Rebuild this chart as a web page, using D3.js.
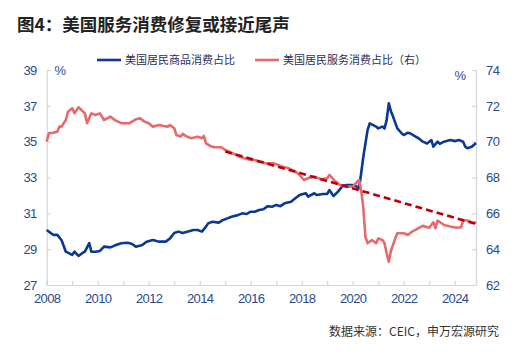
<!DOCTYPE html>
<html>
<head>
<meta charset="utf-8">
<script src="https://cdn.jsdelivr.net/npm/d3@7"></script>
<style>
  body { margin: 0; background: #fff; }
  svg { display: block; }
  .tick-label { font-family: "Liberation Sans", Arial, sans-serif; font-size: 13px; letter-spacing: -0.6px; fill: #2b4a8c; }
</style>
</head>
<body>
<svg id="chart" width="531" height="358"></svg>
<script>
// goods share (left axis), month offset from 2008-01 and value
const goodsMonths = [0,3,5,7,9,12,13,15,17,18,20,21,23,25,27,30,32,35,38,40,42,45,47,50,53,56,58,60,62,64,67,69,71,73,75,76,78,81,83,85,87,90,92,94,96,98,100,102,104,106,108,110,112,115,117,119,122,123,126,127,130,132,133,135,137,139,141,144,146,147,148,149,151,152,155,156,158,159,160,161,162,163,165,167,168,170,171,173,175,177,179,181,182,184,185,187,189,190,192,194,196,197,198,200,202];
const goodsShare = [30.07,29.8,29.8,29.5,28.86,28.68,28.86,28.62,28.8,28.86,29.34,28.86,28.86,28.9,29.14,29.1,29.2,29.33,29.36,29.3,29.14,29.23,29.42,29.51,29.42,29.42,29.6,29.9,29.98,29.9,30.0,30.07,30.07,29.98,30.26,30.44,30.53,30.48,30.63,30.72,30.81,30.9,31.0,30.96,31.09,31.09,31.19,31.23,31.4,31.37,31.47,31.4,31.56,31.65,31.84,32.02,32.12,31.93,32.12,32.02,32.08,32.08,32.3,31.97,32.2,32.49,32.58,32.58,32.49,32.4,33.24,34.16,35.65,36.02,35.84,35.74,35.84,35.74,36.2,37.14,36.7,36.4,35.74,35.47,35.37,35.5,35.47,35.32,35.19,35.0,34.9,35.09,34.72,35.0,34.88,35.0,35.06,35.09,35.03,35.09,35.0,34.72,34.63,34.72,34.93];

// services share (right axis)
const serviceMonths = [0,1,3,5,6,7,9,10,12,13,15,16,18,19,21,23,25,27,30,32,35,37,39,42,44,46,48,50,53,55,57,58,60,61,63,64,66,68,71,73,74,75,77,79,82,84,86,89,91,93,96,98,100,103,105,107,110,112,114,117,119,121,123,126,129,132,133,136,138,141,144,147,148,149,150,151,153,155,156,158,159,160,161,162,164,165,168,170,172,175,177,180,182,183,184,187,190,193,195,196,198,201,202];
const serviceShare = [70.0,70.47,70.5,70.56,70.84,70.84,71.21,71.67,71.86,71.58,71.92,71.81,71.58,71.03,71.58,71.49,71.58,71.21,71.4,71.21,71.03,71.03,71.03,71.25,71.3,71.12,71.03,70.84,70.93,70.87,70.84,70.93,70.75,70.37,70.28,70.43,70.28,70.19,70.28,70.19,70.32,69.91,69.76,69.69,69.69,69.54,69.44,69.26,69.16,69.07,68.98,68.98,68.88,68.79,68.79,68.79,68.64,68.57,68.51,68.33,68.14,67.86,67.96,68.05,67.9,67.96,68.14,67.77,67.58,67.49,67.49,67.86,67.3,66.3,64.7,64.33,64.51,64.33,64.6,64.51,64.33,63.77,63.3,63.9,64.6,64.89,64.89,64.79,64.98,65.17,65.3,65.2,65.5,65.17,65.6,65.35,65.26,65.2,65.22,65.6,65.6,65.45,65.5];

// trend on services share, start and end
const trendMonths = [84, 202];
const trendValues = [69.45, 65.41];

const leftTicks = [27, 29, 31, 33, 35, 37, 39];
const rightTicks = [62, 64, 66, 68, 70, 72, 74];
const yearLabels = [2008, 2010, 2012, 2014, 2016, 2018, 2020, 2022, 2024];

const title = "图4：美国服务消费修复或接近尾声";
const legendNames = ["美国居民商品消费占比", "美国居民服务消费占比（右）"];
const sourceNote = "数据来源：CEIC，申万宏源研究";

const blue = "#0b3892";
const red = "#e8696c";
const darkRed = "#b8000a";
const axisLine = "#d6d6d6";

const monthDate = (m) => new Date(2008, m, 1);

const svg = d3.select("#chart");
const plotLeft = 46.7, plotRight = 476, plotTop = 70, plotBottom = 285;

const x = d3.scaleTime()
  .domain([monthDate(0), monthDate(202)])
  .range([plotLeft, plotRight]);
const yL = d3.scaleLinear().domain([27, 39]).range([plotBottom, plotTop]);
const yR = d3.scaleLinear().domain([62, 74]).range([plotBottom, plotTop]);

//=== title ===
svg.append("text")
  .attr("x", 17).attr("y", 31)
  .attr("font-family", "'Noto Sans CJK SC', sans-serif")
  .attr("font-weight", "bold")
  .attr("font-size", 17.5)
  .attr("fill", "#222")
  .text(title);

//=== axes ===
const yearTicks = d3.range(2008, 2025).map((yr) => new Date(yr, 0, 1));

const xAxis = svg.append("g")
  .attr("transform", `translate(0,${plotBottom})`)
  .call(d3.axisBottom(x).tickValues(yearTicks).tickSize(-4).tickPadding(9)
    .tickFormat((d) => yearLabels.includes(d.getFullYear()) ? d.getFullYear() : ""));

const leftAxis = svg.append("g")
  .attr("transform", `translate(${plotLeft},0)`)
  .call(d3.axisLeft(yL).tickValues(leftTicks).tickSize(-4).tickPadding(10));

const rightAxis = svg.append("g")
  .attr("transform", `translate(${plotRight},0)`)
  .call(d3.axisRight(yR).tickValues(rightTicks).tickSize(-4).tickPadding(10));

[xAxis, leftAxis, rightAxis].forEach((g) => {
  g.select(".domain").attr("stroke", axisLine).attr("stroke-width", 1.2);
  g.selectAll(".tick line").attr("stroke", axisLine).attr("stroke-width", 1.2);
  g.selectAll(".tick text").attr("class", "tick-label");
});

svg.append("text").attr("x", 60).attr("y", 75)
  .attr("class", "tick-label").attr("text-anchor", "middle").text("%");
svg.append("text").attr("x", 460).attr("y", 80)
  .attr("class", "tick-label").attr("text-anchor", "middle").text("%");

//=== lines ===
const goodsLine = d3.line()
  .x((d, i) => x(monthDate(goodsMonths[i])))
  .y((d) => yL(d));
const serviceLine = d3.line()
  .x((d, i) => x(monthDate(serviceMonths[i])))
  .y((d) => yR(d));
const trendLine = d3.line()
  .x((d, i) => x(monthDate(trendMonths[i])))
  .y((d) => yR(d));

svg.append("path").datum(goodsShare)
  .attr("fill", "none").attr("stroke", blue).attr("stroke-width", 2.6)
  .attr("stroke-linejoin", "round")
  .attr("d", goodsLine);

svg.append("path").datum(serviceShare)
  .attr("fill", "none").attr("stroke", red).attr("stroke-width", 2.6)
  .attr("stroke-linejoin", "round")
  .attr("d", serviceLine);

svg.append("path").datum(trendValues)
  .attr("fill", "none").attr("stroke", darkRed).attr("stroke-width", 2.6)
  .attr("stroke-dasharray", "7,4")
  .attr("d", trendLine);

//=== legend ===
const legend = svg.append("g").attr("font-family", "'Noto Sans CJK SC', sans-serif")
  .attr("font-size", 11).attr("fill", "#1f2f5c");
[[97, blue], [255, red]].forEach(([lx, color], i) => {
  legend.append("line")
    .attr("x1", lx).attr("x2", lx + 24).attr("y1", 60).attr("y2", 60)
    .attr("stroke", color).attr("stroke-width", 2.6);
  legend.append("text")
    .attr("x", lx + 28).attr("y", 64)
    .text(legendNames[i]);
});

//=== source ===
svg.append("text")
  .attr("x", 499).attr("y", 336)
  .attr("text-anchor", "end")
  .attr("font-family", "'Noto Sans CJK SC', sans-serif")
  .attr("font-size", 12)
  .attr("fill", "#333")
  .text(sourceNote);
</script>
</body>
</html>
